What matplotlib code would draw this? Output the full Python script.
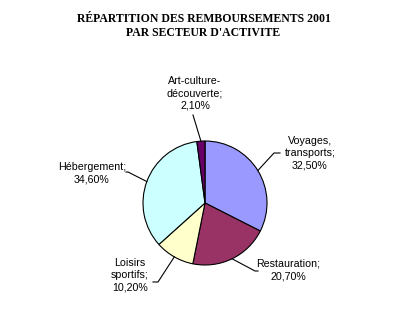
import numpy as np
import matplotlib.pyplot as plt

labels = ["Voyages,\ntransports;\n32,50%", "Restauration;\n20,70%", "Loisirs\nsportifs;\n10,20%",
          "Hébergement;\n34,60%", "Art-culture-\ndécouverte;\n2,10%"]
values = [32.5, 20.7, 10.2, 34.6, 2.1]
colors = ["#9999FF", "#993366", "#FFFFCC", "#CCFFFF", "#660066"]

# layout in pixels (y from top)
W, H = 400, 324
cx, cy, r = 205, 203, 62
text_pos = [(310, 153), (288, 270), (130, 275), (92, 173), (195, 93)]
leader_end = [[(274, 153), (280, 153)], [(255, 271), (258, 271)], [(158, 282), (153, 282)],
              [(128, 172), (126, 172)], [(193, 115)]]

fig = plt.figure(figsize=(4, 3.24), dpi=100)
ax = fig.add_axes([0, 0, 1, 1])

wedges, _ = ax.pie(values, colors=colors, startangle=90, counterclock=False, radius=r,
                   center=(cx, H - cy), frame=True,
                   wedgeprops=dict(edgecolor="black", linewidth=0.8))
ax.set_xlim(0, W)
ax.set_ylim(0, H)
ax.axis("off")

for w, lab, (tx, ty), pts in zip(wedges, labels, text_pos, leader_end):
    mid = np.deg2rad((w.theta1 + w.theta2) / 2)
    xs = [cx + r * np.cos(mid)] + [p[0] for p in pts]
    ys = [H - cy + r * np.sin(mid)] + [H - p[1] for p in pts]
    ax.plot(xs, ys, color="black", lw=0.8)
    ax.text(tx, H - ty, lab, ha="center", va="center", fontsize=7.7,
            family="Liberation Sans", linespacing=1.3)

fig.text(203.5 / W, 1 - 26 / H, "RÉPARTITION DES REMBOURSEMENTS 2001\nPAR SECTEUR D'ACTIVITE",
         ha="center", va="center", fontsize=8.5, fontweight="bold",
         family="Liberation Serif", linespacing=1.2)

fig.savefig("out.png", dpi=100)
